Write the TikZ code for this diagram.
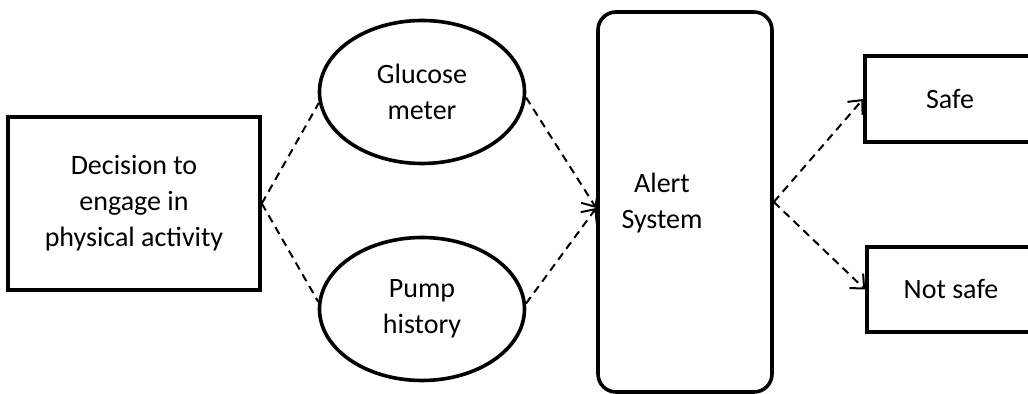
\documentclass[tikz,border=0pt]{standalone}
\usepackage{fontspec}
\setmainfont{Carlito}
\usetikzlibrary{shapes.geometric,arrows.meta}

\begin{document}
\begin{tikzpicture}[x=0.5pt, y=-0.5pt, font=\fontsize{14}{18}\selectfont]

\tikzset{
  box/.style={rectangle, draw, line width=1.8pt, inner sep=0pt, align=center},
  ovl/.style={ellipse, draw, line width=1.8pt, minimum width=102.5pt, minimum height=71.5pt, inner sep=0pt, align=center},
  edg/.style={line width=1pt, dash pattern=on 4pt off 2.8pt},
  arredg/.style={edg, -{Straight Barb[length=5.5pt, width=10pt, line width=1pt]}},
}

\useasboundingbox (0,0) rectangle (1028,394);

\node[box,name=decision,minimum width=126pt,minimum height=86.5pt] at (134,203.5) {Decision to\\engage in\\physical activity};
\node[ovl,name=glucose] at (422,92) {Glucose\\meter};
\node[ovl,name=pump] at (422,309) {Pump\\history};
\node[box,name=alert,rounded corners=9pt,minimum width=87pt,minimum height=190pt] at (685,202) {};
\node[name=alerttxt,align=center] at (662,203) {Alert\\System};
\node[box,name=safe,minimum width=85pt,minimum height=43pt] at (950,99) {Safe};
\node[box,name=notsafe,minimum width=84pt,minimum height=42.5pt] at (951,289.5) {Not safe};

\draw[edg] (decision.east) -- (glucose.186);
\draw[edg] (decision.east) -- (pump.176);
\draw[arredg] (glucose.357) -- ([yshift=-3pt]alert.west);
\draw[arredg] (pump.3) -- ([yshift=-3pt]alert.west);
\draw[arredg] (alert.east) -- (safe.west);
\draw[arredg] (alert.east) -- (notsafe.west);

\end{tikzpicture}
\end{document}
